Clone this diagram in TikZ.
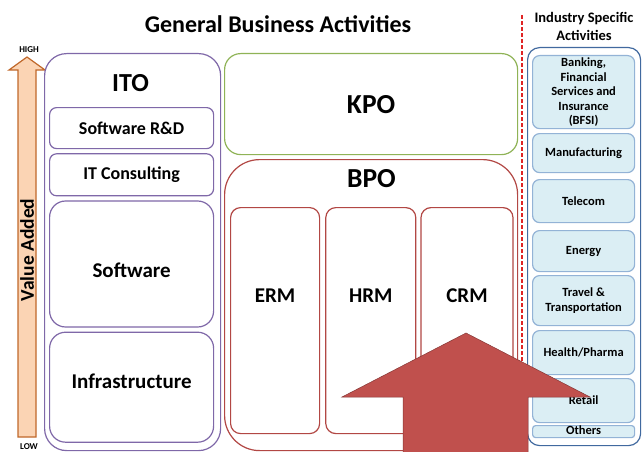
\documentclass[tikz,border=0pt]{standalone}
\usepackage{fontspec}
\setmainfont{Carlito}
\usetikzlibrary{positioning,calc}
\definecolor{itoLine}{HTML}{7F68A8}
\definecolor{kpoLine}{HTML}{8FB356}
\definecolor{bpoLine}{HTML}{B24744}
\definecolor{indLine}{HTML}{41699F}
\definecolor{indSub}{HTML}{93B3D6}
\definecolor{indFill}{HTML}{DBEEF4}
\definecolor{vaFill}{HTML}{FBD4B4}
\definecolor{vaLine}{HTML}{C0682B}
\definecolor{bigArrow}{HTML}{C0504D}
\definecolor{divLine}{HTML}{E02424}
\def\SubGap{4pt}

\begin{document}
\begin{tikzpicture}[x=1pt,y=-1pt,
	box/.style={draw,line width=1.2pt,fill=white,inner sep=0pt,align=center,anchor=north west},
	itobox/.style={box,draw=itoLine},
	indbox/.style={box,draw=indSub,fill=indFill,rounded corners=7pt,minimum width=102pt,font=\bfseries\fontsize{12.5}{14.5}\selectfont},
	hdr/.style={font=\bfseries\fontsize{24}{26}\selectfont},
	big/.style={font=\bfseries\fontsize{27.5}{30}\selectfont},
	mid/.style={font=\bfseries\fontsize{21}{23}\selectfont},
	sml/.style={font=\bfseries\fontsize{18}{20}\selectfont},
	]
	\useasboundingbox (0,0) rectangle (642,452);
	\node[hdr,anchor=base] (title) at (278,33) {General Business Activities};
	% value added scale
	\draw[vaLine,fill=vaFill,line width=1.2pt] (27,57) -- (45,70) -- (36,70) -- (36,437) -- (18,437) -- (18,70) -- (9,70) -- cycle;
	\node[rotate=90,font=\bfseries\fontsize{19.5}{21}\selectfont] (va) at (27,250) {Value Added};
	\node[font=\bfseries\fontsize{9}{10}\selectfont] (high) at (29,50) {HIGH};
	\node[font=\bfseries\fontsize{9}{10}\selectfont] (low) at (29,447) {LOW};
	% 
	\node[itobox,rounded corners=22pt,minimum width=176pt,minimum height=397pt] (ito) at (44,53) {};
	\node[big,anchor=base,font=\bfseries\fontsize{26}{28}\selectfont] (itot) at (130.5,92) {ITO};
	\node[itobox,rounded corners=7pt,minimum width=164pt,minimum height=41pt,sml] (srd) at (49,107) {Software R\&D};
	\node[itobox,rounded corners=7pt,minimum width=164pt,minimum height=42pt,sml,below=\SubGap of srd] (itc) {IT Consulting};
	\node[itobox,rounded corners=16pt,minimum width=164pt,minimum height=126pt,mid,text height=27pt,below=\SubGap of itc] (sw) {Software};
	\node[itobox,rounded corners=16pt,minimum width=164pt,minimum height=110pt,mid,text depth=12pt,below=\SubGap of sw] (infra) {Infrastructure};
	% 
	\node[box,draw=kpoLine,rounded corners=16pt,minimum width=293pt,minimum height=101pt,big] (kpo) at (224,53) {KPO};
	\node[box,draw=bpoLine,rounded corners=35pt,minimum width=293pt,minimum height=291pt] (bpo) at (224,159) {};
	\node[big,anchor=base] (bpot) at (371.5,187) {BPO};
	\node[box,draw=bpoLine,rounded corners=10pt,minimum width=89pt,minimum height=226pt] (erm) at (230,207) {};
	\node[box,draw=bpoLine,rounded corners=10pt,minimum width=90pt,minimum height=226pt,right=5pt of erm] (hrm) {};
	\node[box,draw=bpoLine,rounded corners=10pt,minimum width=92pt,minimum height=226pt,right=4pt of hrm] (crm) {};
	\node[mid] at ($(erm.north)!0.39!(erm.south)$) (ermt) {ERM};
	\node[mid] at ($(hrm.north)!0.39!(hrm.south)$) (hrmt) {HRM};
	\node[mid] at ($(crm.north)!0.39!(crm.south)$) (crmt) {CRM};
	% 
	\draw[divLine,line width=1.2pt,dash pattern=on 4pt off 2pt] (522,15) -- (522,452);
	\node[align=center,font=\bfseries\fontsize{14.5}{18}\selectfont,anchor=north] (indt) at (584,9) {Industry Specific\\Activities};
	\node[box,draw=indLine,rounded corners=12pt,minimum width=113pt,minimum height=398pt] (ind) at (527,47) {};
	\node[indbox,minimum height=73pt] (bfsi) at (532,55) {Banking,\\Financial\\Services and\\Insurance\\(BFSI)};
	\node[indbox,minimum height=39pt] (manu) at (532,133) {Manufacturing};
	\node[indbox,minimum height=43pt] (tel) at (532,179) {Telecom};
	\node[indbox,minimum height=41pt] (nrg) at (532,230) {Energy};
	\node[indbox,minimum height=50pt] (trav) at (532,275) {Travel \&\\Transportation};
	\node[indbox,minimum height=44pt] (hlth) at (532,330) {Health/Pharma};
	\node[indbox,minimum height=44pt] (ret) at (532,378) {Retail};
	\node[indbox,rounded corners=3pt,minimum height=12pt,text height=8.5pt,text depth=2pt] (oth) at (532,425) {Others};
	% 
	\draw[fill=bigArrow,draw=bigArrow!70!black,line width=0.5pt] (466,333) -- (590,397) -- (528,397) -- (528,454) -- (403,454) -- (403,397) -- (342,397) -- cycle;
\end{tikzpicture}
\end{document}
